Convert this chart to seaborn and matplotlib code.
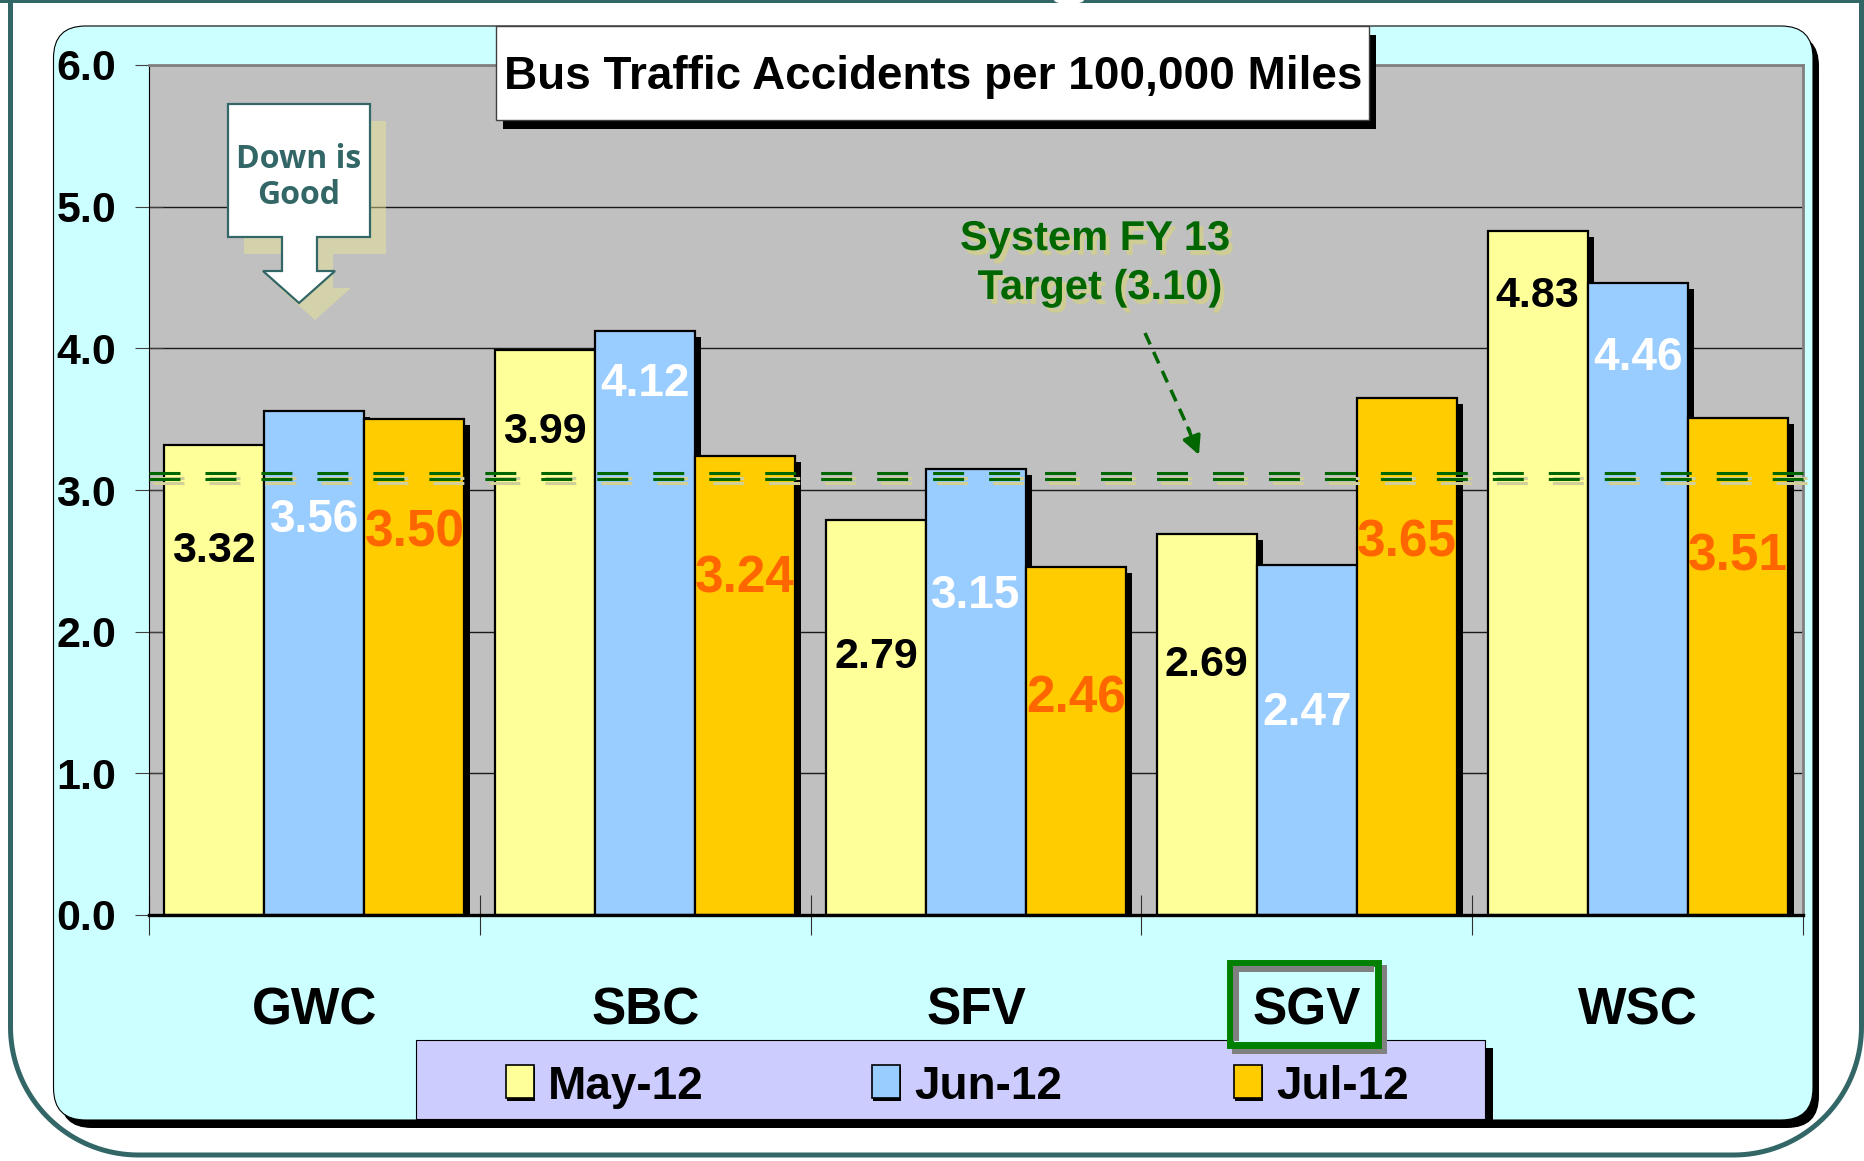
import numpy as np
import pandas as pd
import matplotlib
matplotlib.use("Agg")
import matplotlib.pyplot as plt
import matplotlib.transforms as mtransforms
import matplotlib.patheffects as pe
from matplotlib.patches import FancyBboxPatch, Rectangle, Polygon, PathPatch, Ellipse
from matplotlib.path import Path
from matplotlib.lines import Line2D
import seaborn as sns

# ---------------- data ----------------
categories = ["GWC", "SBC", "SFV", "SGV", "WSC"]
months = ["May-12", "Jun-12", "Jul-12"]
may_12 = [3.32, 3.99, 2.79, 2.69, 4.83]
jun_12 = [3.56, 4.12, 3.15, 2.47, 4.46]
jul_12 = [3.50, 3.24, 2.46, 3.65, 3.51]
target_value = 3.10
y_ticks = [0, 1, 2, 3, 4, 5, 6]
title_text = "Bus Traffic Accidents per 100,000 Miles"
target_text_1 = "System FY 13"
target_text_2 = "Target (3.10)"
callout_1 = "Down is"
callout_2 = "Good"
highlight = "SGV"

# layout only: how far below each bar top its value label sits (data units)
label_drop = {
    "May-12": [0.72, 0.55, 0.94, 0.89, 0.43],
    "Jun-12": [0.74, 0.34, 0.87, 1.01, 0.50],
    "Jul-12": [0.76, 0.82, 0.89, 0.98, 0.94],
}

bar_colors = {"May-12": "#FFFF99", "Jun-12": "#99CCFF", "Jul-12": "#FFCC00"}
label_colors = {"May-12": "black", "Jun-12": "white", "Jul-12": "#FF6600"}
label_sizes = {"May-12": 31, "Jun-12": 33, "Jul-12": 37}
label_caps = {"May-12": 31, "Jun-12": 33, "Jul-12": 40}
TEAL = "#336666"
GREEN = "#006600"

df = pd.DataFrame({
    "Division": categories * 3,
    "Month": [m for m in months for _ in categories],
    "Rate": may_12 + jun_12 + jul_12,
})

sns.set_theme(style="white")
BOLD = ["Liberation Sans", "DejaVu Sans"]
plt.rcParams["font.family"] = BOLD
plt.rcParams["lines.scale_dashes"] = False

W, H, DPI = 1865, 1161, 100
fig = plt.figure(figsize=(W / DPI, H / DPI), dpi=DPI, facecolor="white")
PX = mtransforms.Affine2D().scale(1 / DPI, -1 / DPI).translate(0, H / DPI) + fig.dpi_scale_trans


def add(p, z):
    p.set_transform(PX)
    p.set_zorder(z)
    fig.add_artist(p)
    return p


# ---------------- frame decorations ----------------
r = 128
x0, x1, ytop, ybot = 10.5, 1861.5, -10, 1155
th1 = np.linspace(np.pi, np.pi / 2, 40)
th2 = np.linspace(np.pi / 2, 0, 40)
pts = [(x0, ytop)]
pts += [(x0 + r + r * np.cos(t), ybot - r + r * np.sin(t)) for t in th1]
pts += [(x1 - r + r * np.cos(t), ybot - r + r * np.sin(t)) for t in th2]
pts += [(x1, ytop)]
add(PathPatch(Path(pts), fill=False, ec=TEAL, lw=3.6), -5)
add(Rectangle((0, -2), W, 5, fc=TEAL, ec="none"), -5)
add(Ellipse((1069, 0), 30, 8, fc="white", ec="none"), -4.9)

# cyan panel with shadow
add(FancyBboxPatch((60, 34), 1759, 1094, boxstyle="round,pad=0,rounding_size=32",
                   fc="black", ec="none"), -4)
add(FancyBboxPatch((53.5, 26), 1759.5, 1094, boxstyle="round,pad=0,rounding_size=32",
                   fc="#CCFFFF", ec="black", lw=0.8), -3.9)

# legend box
add(Rectangle((424, 1048), 1069, 80, fc="black", ec="none"), -3.5)
add(Rectangle((416, 1040), 1069, 79, fc="#CCCCFF", ec="black", lw=0.8), -3.4)
leg_marker_x = [506, 872, 1234]
leg_text_x = [548, 914, 1276]
for m, mx, tx in zip(months, leg_marker_x, leg_text_x):
    add(Rectangle((mx + 1, 1067), 28, 34, fc="black", ec="none"), -3.3)
    add(Rectangle((mx, 1065), 28, 33, fc=bar_colors[m], ec="black", lw=1.2), -3.2)
    fig.text(tx, 1099, m, transform=PX, ha="left", va="baseline", fontsize=33,
             fontweight="bold", family=BOLD, color="black", zorder=-3.1)

# SGV highlight box
add(Rectangle((1232, 965), 155, 89, fc="#808080", ec="none"), -3.0)
add(Rectangle((1229.5, 962.5), 148, 82, fc="#CCFFFF", ec="#008000", lw=5), -2.9)
add(Rectangle((1233, 966), 141, 6, fc="#808080", ec="none"), -2.8)
add(Rectangle((1233, 966), 6, 75, fc="#808080", ec="none"), -2.8)

# ---------------- axes / bars ----------------
ax = fig.add_axes([149 / W, 1 - 915 / H, (1803 - 149) / W, (915 - 65) / H])
ax.set_facecolor("#C0C0C0")
sns.barplot(data=df, x="Division", y="Rate", hue="Month", order=categories,
            hue_order=months, palette=bar_colors, saturation=1, width=0.907, gap=0,
            edgecolor="black", linewidth=1.6, errorbar=None, legend=False,
            ax=ax, zorder=2)
ax.set_xlabel("")
ax.set_ylabel("")
ax.set_ylim(0, 6)
ax.set_xlim(-0.5, len(categories) - 0.5)
ax.set_yticks(y_ticks)
ax.set_yticklabels([f"{v:.1f}" for v in y_ticks], fontsize=31, fontweight="bold",
                   family=BOLD, color="black")
ax.yaxis.grid(True, color="#1a1a1a", lw=1.0, zorder=0.5)
ax.xaxis.grid(False)
ax.set_axisbelow(True)
ax.tick_params(axis="y", direction="inout", length=19.5, width=0.8, color="#404040",
               pad=14, left=True)

ax.set_xticks(range(len(categories)))
ax.set_xticklabels(categories, fontsize=37, fontweight="bold", family=BOLD, color="black")
ax.set_xticks(np.arange(-0.5, len(categories), 1), minor=True)
ax.tick_params(axis="x", which="major", length=0, pad=79)
ax.tick_params(axis="x", which="minor", direction="inout", length=28.8, width=0.8,
               color="#303030", bottom=True)
for lab in ax.get_xticklabels():
    lab.set_va("baseline")

for side in ["top", "right"]:
    ax.spines[side].set_color("#808080")
    ax.spines[side].set_linewidth(2)
ax.spines["left"].set_color("black")
ax.spines["left"].set_linewidth(0.8)
ax.spines["bottom"].set_color("black")
ax.spines["bottom"].set_linewidth(2.4)

# bar drop shadows
shadow_tr = ax.transData + mtransforms.ScaledTranslation(0.06, -0.06, fig.dpi_scale_trans)
for bar in list(ax.patches):
    ax.add_patch(Rectangle(bar.get_xy(), bar.get_width(), bar.get_height(),
                           fc="black", ec="none", zorder=1.5, transform=shadow_tr))

# value labels
for cont, m in zip(ax.containers, months):
    cap = label_caps[m]
    tr = ax.transData + mtransforms.ScaledTranslation(0, -cap / 2 / DPI, fig.dpi_scale_trans)
    for bar, drop in zip(cont, label_drop[m]):
        v = bar.get_height()
        ax.text(bar.get_x() + bar.get_width() / 2, v - drop, f"{v:.2f}",
                transform=tr, ha="center", va="baseline", fontsize=label_sizes[m],
                fontweight="bold", family=BOLD, color=label_colors[m], zorder=4)

# target line (double dashed with khaki shadow)
dash = (0, (22.3, 18))
for dy, col, dx in [(-0.025, "#D2CF98", 0.04), (-0.075, "#D2CF98", 0.04),
                    (0.03, GREEN, 0.0), (-0.03, GREEN, 0.0)]:
    tr = ax.get_yaxis_transform() + mtransforms.ScaledTranslation(dx, dy, fig.dpi_scale_trans)
    ax.plot([0, 1], [target_value, target_value], transform=tr, color=col, lw=2.2,
            linestyle=dash, zorder=3 if col == GREEN else 2.9, clip_on=False,
            solid_capstyle="butt", dash_capstyle="butt")

# ---------------- overlays ----------------
# title
add(Rectangle((503, 35), 873, 94, fc="black", ec="none"), 5)
add(Rectangle((496, 26), 873, 94, fc="white", ec="#404040", lw=1), 5.1)
fig.text(933, 89, title_text, transform=PX, ha="center", va="baseline", fontsize=33,
         fontweight="bold", family=BOLD, color="black", zorder=5.2)

# Down is Good callout arrow
arrow_pts = np.array([(228, 104), (370, 104), (370, 237), (317, 237), (317, 271),
                      (335, 271), (299, 303), (263, 271), (282, 271), (282, 237),
                      (228, 237)])
add(Polygon(arrow_pts + np.array([16, 17]), closed=True, fc="#EEEA90", ec="none",
            alpha=0.45), 5)
add(Polygon(arrow_pts, closed=True, fc="white", ec=TEAL, lw=1.6), 5.1)
for s, yb in [(callout_1, 168), (callout_2, 204)]:
    fig.text(299, yb, s, transform=PX, ha="center", va="baseline", fontsize=23,
             fontweight="bold", family=["Open Sans", "DejaVu Sans"], color=TEAL, zorder=5.2)

# target annotation
shadow_fx = [pe.withSimplePatchShadow(offset=(3, -3.5), shadow_rgbFace="#CFCC94", alpha=1.0)]
for s, xc, yb in [(target_text_1, 1095, 250), (target_text_2, 1100, 299)]:
    fig.text(xc, yb, s, transform=PX, ha="center", va="baseline", fontsize=30,
             fontweight="bold", family=BOLD, color=GREEN, zorder=5.1,
             path_effects=shadow_fx)
fig.add_artist(Line2D([1145, 1190], [333, 432], transform=PX, color=GREEN, lw=2.5,
                      linestyle=(0, (9, 6)), zorder=5.1))
ax.annotate("", xy=(1199, 455), xytext=(1188, 428), xycoords=PX, textcoords=PX,
            arrowprops=dict(arrowstyle="-|>", color=GREEN, lw=2.5, mutation_scale=28,
                            shrinkA=0, shrinkB=0), zorder=5.2, annotation_clip=False)

fig.savefig("out.png", dpi=DPI, facecolor="white")
